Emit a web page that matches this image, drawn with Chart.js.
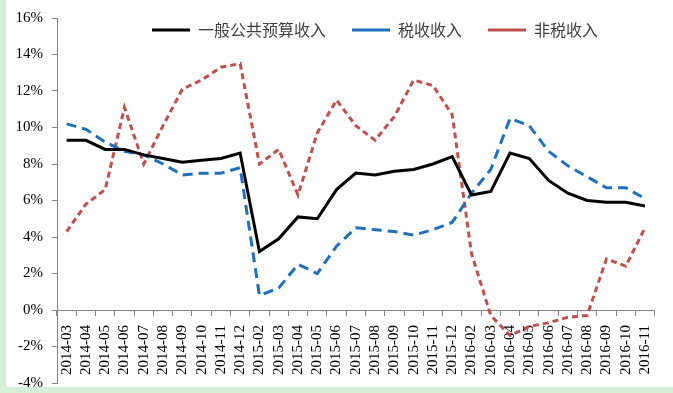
<!DOCTYPE html>
<html>
<head>
<meta charset="utf-8">
<script src="https://cdn.jsdelivr.net/npm/chart.js@4"></script>
<style>
  html, body { margin: 0; padding: 0; background: #fff; }
  #wrap { width: 673px; height: 393px; position: relative; }
</style>
</head>
<body>
<div id="wrap"><canvas id="jsChart" width="673" height="393"></canvas></div>
<script>
// months on the category axis
const months = [
  '2014-03', '2014-04', '2014-05', '2014-06', '2014-07', '2014-08', '2014-09', '2014-10', '2014-11', '2014-12',
  '2015-02', '2015-03', '2015-04', '2015-05', '2015-06', '2015-07', '2015-08', '2015-09', '2015-10', '2015-11', '2015-12',
  '2016-02', '2016-03', '2016-04', '2016-05', '2016-06', '2016-07', '2016-08', '2016-09', '2016-10', '2016-11'
];

// growth rates in %
const generalBudget = [9.3, 9.3, 8.8, 8.8, 8.5, 8.3, 8.1, 8.2, 8.3, 8.6,
  3.2, 3.9, 5.1, 5.0, 6.6, 7.5, 7.4, 7.6, 7.7, 8.0, 8.4,
  6.3, 6.5, 8.6, 8.3, 7.1, 6.4, 6.0, 5.9, 5.9, 5.7];
const taxRevenue = [10.2, 9.9, 9.2, 8.7, 8.5, 8.0, 7.4, 7.5, 7.5, 7.8,
  0.8, 1.2, 2.5, 2.0, 3.5, 4.5, 4.4, 4.3, 4.1, 4.4, 4.8,
  6.4, 7.7, 10.5, 10.1, 8.7, 7.9, 7.3, 6.7, 6.7, 6.1];
const nonTaxRevenue = [4.3, 5.8, 6.6, 11.1, 8.0, 10.1, 12.1, 12.6, 13.3, 13.5,
  8.0, 8.8, 6.3, 9.7, 11.5, 10.1, 9.3, 10.6, 12.6, 12.3, 10.7,
  3.1, -0.3, -1.4, -0.9, -0.7, -0.4, -0.3, 2.8, 2.4, 4.5];

const yMin = -4;
const yMax = 16;
const yStep = 2;

const axisGray = '#868686';
const legendPad = 26;
const legendFont = 16;

// green frame on the left and bottom, white plot panel
const backdrop = {
  id: 'backdrop',
  beforeDraw(chart) {
    const c = chart.ctx;
    c.save();
    c.fillStyle = '#d6f0d8';
    c.fillRect(0, 0, chart.width, chart.height);
    c.fillStyle = '#ffffff';
    c.fillRect(6, 0, chart.width - 6, 387);
    c.restore();
  }
};

// legend takes no room: it is drawn inside the plot near the top
const legendInside = {
  id: 'legendInside',
  beforeLayout(chart) {
    const lg = chart.legend;
    if (!lg || lg._inside) return;
    const fit = lg.fit;
    lg.fit = function () {
      fit.call(this);
      this._realHeight = this.height;
      this.height = 0;
    };
    lg._inside = true;
  },
  afterLayout(chart) {
    const lg = chart.legend;
    if (!lg) return;
    lg.top = 30 - legendPad - legendFont / 2;
    lg.height = lg._realHeight;
    lg.bottom = lg.top + lg.height;
    const dx = 375 - (lg.left + lg.right) / 2;
    lg.left += dx;
    lg.right += dx;
  }
};

const ctx = document.getElementById('jsChart');

new Chart(ctx, {
  type: 'line',
  data: {
    labels: months,
    datasets: [
      {
        label: '一般公共预算收入',
        data: generalBudget,
        borderColor: '#000000',
        backgroundColor: '#000000',
        borderWidth: 3,
      },
      {
        label: '税收收入',
        data: taxRevenue,
        borderColor: '#1f70bd',
        backgroundColor: '#1f70bd',
        borderWidth: 3,
        borderDash: [10, 6],
      },
      {
        label: '非税收入',
        data: nonTaxRevenue,
        borderColor: '#c0504d',
        backgroundColor: '#c0504d',
        borderWidth: 3,
        borderDash: [6, 4],
      },
    ],
  },
  options: {
    responsive: false,
    animation: false,
    devicePixelRatio: 1,
    layout: { padding: { top: 18, right: 1, bottom: 10, left: 0 } },
    elements: {
      line: { tension: 0, borderJoinStyle: 'miter', fill: false },
      point: { radius: 0, hoverRadius: 0, pointStyle: 'line' },
    },
    plugins: {
      tooltip: { enabled: false },
      legend: {
        position: 'top',
        align: 'center',
        labels: {
          usePointStyle: true,
          pointStyle: 'line',
          pointStyleWidth: 38,
          padding: legendPad,
          color: '#404040',
          font: { family: '"Noto Sans CJK SC", sans-serif', size: legendFont },
        },
      },
    },
    scales: {
      x: {
        position: { y: 0 },
        offset: true,
        afterFit: (scale) => { scale.height = 0; },
        grid: {
          offset: true,
          drawOnChartArea: false,
          drawTicks: true,
          tickLength: 5,
          color: axisGray,
        },
        border: { color: axisGray, width: 1 },
        ticks: {
          autoSkip: false,
          minRotation: 90,
          maxRotation: 90,
          padding: 10,
          color: '#000000',
          font: { family: '"Liberation Serif", "Times New Roman", serif', size: 15 },
        },
      },
      y: {
        min: yMin,
        max: yMax,
        afterFit: (scale) => {
          scale.width = 57;
          scale.paddingTop = 0;
          scale.paddingBottom = 0;
        },
        grid: {
          drawOnChartArea: false,
          drawTicks: true,
          tickLength: 5,
          color: axisGray,
        },
        border: { color: axisGray, width: 1 },
        ticks: {
          stepSize: yStep,
          padding: 9,
          color: '#000000',
          font: { family: '"Liberation Serif", "Times New Roman", serif', size: 15 },
          callback: (v) => v + '%',
        },
      },
    },
  },
  plugins: [backdrop, legendInside],
});
</script>
</body>
</html>
